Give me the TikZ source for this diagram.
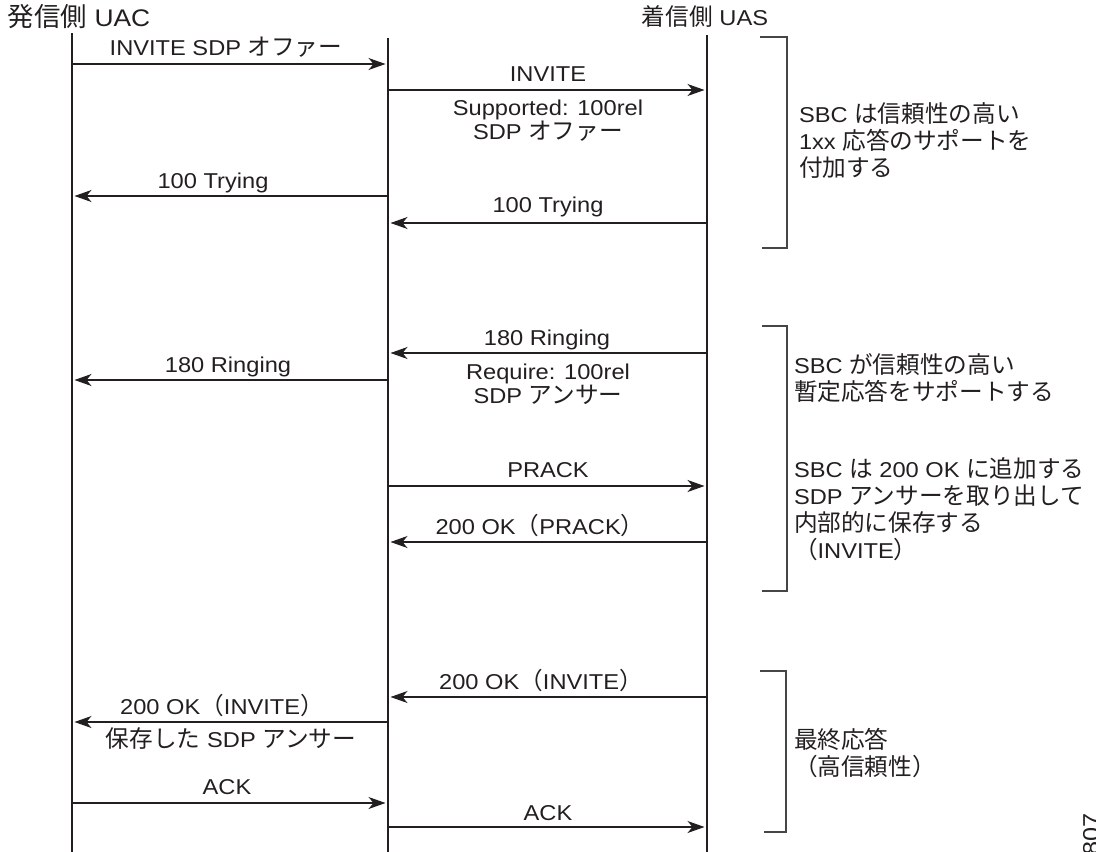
\documentclass[tikz,border=0pt]{standalone}
\usepackage{fontspec}
\setmainfont[FakeStretch=1.1]{Liberation Sans}
\newfontfamily\jpf[Scale=1.1]{Noto Sans CJK JP}
\usetikzlibrary{arrows.meta}
\newcommand{\J}[1]{{\jpf #1}}
\definecolor{txt}{RGB}{35,31,32}
\definecolor{ln}{RGB}{35,31,32}
\definecolor{brc}{RGB}{70,70,70}
\begin{document}
\begin{tikzpicture}[x=1pt,y=-1pt,
  every node/.style={inner sep=0pt, outer sep=0pt, font=\fontsize{21.5}{24}\selectfont, text=txt},
  lifeline/.style={line width=1.1pt, draw=ln},
  msg/.style={line width=1.1pt, draw=ln, -{Stealth[length=17pt,width=12pt,inset=5pt]}, shorten >=2.5pt},
  brk/.style={line width=1.3pt, draw=brc},
  lbl/.style={anchor=base, align=center},
  note/.style={anchor=base west, align=left, font=\fontsize{21.5}{27}\selectfont}]
\useasboundingbox (0,0) rectangle (1096,852);
% headers
\node[anchor=base west, font=\fontsize{24}{24}\selectfont] (hA) at (8,26) {\J{発信側} UAC};
\node[anchor=base] (hC) at (705,25) {\J{着信側} UAS};
% lifelines
\coordinate (A0) at (72,33);  \coordinate (Aend) at (72,852);
\coordinate (B0) at (388,38); \coordinate (Bend) at (388,852);
\coordinate (C0) at (707,35); \coordinate (Cend) at (707,852);
\draw[lifeline] (A0) -- (Aend);
\draw[lifeline] (B0) -- (Bend);
\draw[lifeline] (C0) -- (Cend);
% message endpoints
\foreach \n/\y in {1/64,2/90,3/196,4/223,5/353,6/380,7/486,8/542,9/697,10/722,11/803,12/827}{
  \coordinate (A\n) at (72,\y);
  \coordinate (B\n) at (388,\y);
  \coordinate (C\n) at (707,\y);
}
% messages
\draw[msg] (A1) -- (B1);
\draw[msg] (B2) -- (C2);
\draw[msg] (B3) -- (A3);
\draw[msg] (C4) -- (B4);
\draw[msg] (C5) -- (B5);
\draw[msg] (B6) -- (A6);
\draw[msg] (B7) -- (C7);
\draw[msg] (C8) -- (B8);
\draw[msg] (C9) -- (B9);
\draw[msg] (B10) -- (A10);
\draw[msg] (A11) -- (B11);
\draw[msg] (B12) -- (C12);
% labels (multi-line nodes anchored at last baseline)
\node[lbl] (l1) at (226,55) {INVITE SDP \J{オファー}};
\node[lbl] (l2) at (548,81) {INVITE};
\node[lbl] (l2b) at (548,139) {Supported: 100rel\\SDP \J{オファー}};
\node[lbl] (l3) at (213,188) {100 Trying};
\node[lbl] (l4) at (548,212) {100 Trying};
\node[lbl] (l5) at (547,345) {180 Ringing};
\node[lbl] (l5b) at (548,403) {Require: 100rel\\SDP \J{アンサー}};
\node[lbl] (l6) at (228,372) {180 Ringing};
\node[lbl] (l7) at (548,477) {PRACK};
\node[lbl] (l8) at (540,534) {200 OK\J{（}PRACK\J{）}};
\node[lbl] (l9) at (541,689) {200 OK\J{（}INVITE\J{）}};
\node[lbl] (l10) at (222,714) {200 OK\J{（}INVITE\J{）}};
\node[lbl] (l10b) at (231,747) {\J{保存した} SDP \J{アンサー}};
\node[lbl] (l11) at (227,794) {ACK};
\node[lbl] (l12) at (548,820) {ACK};
% brackets
\draw[brk] (760,37) -| (787,248) -- (762,248);
\draw[brk] (762,326) -| (787,591) -- (762,591);
\draw[brk] (760,671) -| (786,832) -- (764,832);
% notes (anchored at last baseline)
\node[note] (n1) at (799,176) {SBC \J{は信頼性の高い}\\1xx \J{応答のサポートを}\\\J{付加する}};
\node[note] (n2) at (794,400) {SBC \J{が信頼性の高い}\\\J{暫定応答をサポートする}};
\node[note] (n3) at (794,558) {SBC \J{は} 200 OK \J{に追加する}\\SDP \J{アンサーを取り出して}\\\J{内部的に保存する}\\\J{（}INVITE\J{）}};
\node[note] (n4) at (794,775) {\J{最終応答}\\\J{（高信頼性）}};
% figure id
\node[rotate=90, anchor=north east, font=\fontsize{23}{23}\selectfont] (figid) at (1083,813) {250807};
\end{tikzpicture}
\end{document}
